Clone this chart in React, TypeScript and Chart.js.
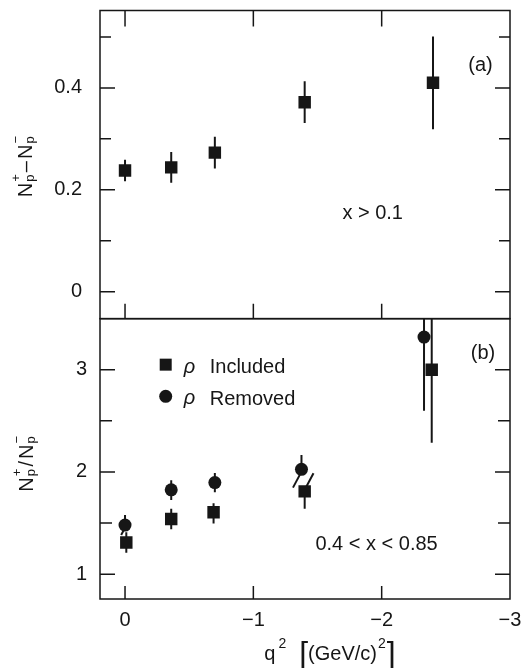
import React, { useEffect, useRef } from 'react';
import { Chart, registerables } from 'chart.js';

Chart.register(...registerables);

const FONT = '"Liberation Sans", Arial, sans-serif';
const INK = '#161616';

// ---- Panel (a): N+ - N-, x > 0.1 ----
const q2A = [0.0, -0.36, -0.70, -1.40, -2.40];
const valA = [0.238, 0.244, 0.273, 0.372, 0.410];
const errA = [0.021, 0.030, 0.031, 0.041, 0.091];

// ---- Panel (b): N+ / N-, 0.4 < x < 0.85 ----
const q2BInc = [-0.01, -0.36, -0.69, -1.40, -2.39];
const valBInc = [1.31, 1.54, 1.605, 1.81, 3.0];
const errUpBInc = [0.10, 0.10, 0.09, 0.0, 0.72];
const errDnBInc = [0.10, 0.10, 0.11, 0.17, 0.715];

const q2BRem = [0.0, -0.36, -0.70, -1.375, -2.33];
const valBRem = [1.48, 1.825, 1.896, 2.026, 3.32];
const errUpBRem = [0.10, 0.095, 0.095, 0.14, 0.72];
const errDnBRem = [0.0, 0.10, 0.095, 0.0, 0.72];

// slanted break marks on overlapping error bars
const slashQ2 = [0.01, -1.34, -1.44];
const slashVal = [1.43, 1.92, 1.92];

// ---- axes ----
const xMin = -3;
const xMax = 0.195;
const xTickVals = [0, -1, -2, -3];
const xTickLabels = ['0', '\u22121', '\u22122', '\u22123'];
const xTickMarks = [0, -1, -2];

const yAMin = -0.053;
const yAMax = 0.552;
const yATickVals = [0, 0.2, 0.4];
const yATickLabels = ['0', '0.2', '0.4'];
const yAMinor = [0.1, 0.3, 0.5];

const yBMin = 0.757;
const yBMax = 3.5;
const yBTickVals = [1, 2, 3];
const yBTickLabels = ['1', '2', '3'];
const yBMinor = [1.5, 2.5];

// ---- annotations ----
const legendLabels = ['Included', 'Removed'];
const legendQ2 = -0.317;
const legendVals = [3.05, 2.74];

function font(sz: number, italic = false) {
  return `${italic ? 'italic ' : ''}${sz}px ${FONT}`;
}

function scriptGroup(ctx: CanvasRenderingContext2D, x: number, y: number, base: string, sup: string, sub: string, fs: number, draw: boolean) {
  ctx.font = font(fs);
  const wb = ctx.measureText(base).width;
  if (draw) ctx.fillText(base, x, y);
  const sfs = Math.round(fs * 0.66);
  ctx.font = font(sfs);
  const wsup = ctx.measureText(sup).width;
  const wsub = ctx.measureText(sub).width;
  if (draw) {
    ctx.fillText(sup, x + wb + 1, y - fs * 0.62);
    ctx.fillText(sub, x + wb + 1, y + fs * 0.08);
  }
  return wb + 1 + Math.max(wsup, wsub);
}

function plain(ctx: CanvasRenderingContext2D, x: number, y: number, t: string, fs: number, draw: boolean) {
  ctx.font = font(fs);
  if (draw) ctx.fillText(t, x, y);
  return ctx.measureText(t).width;
}

function yTitle(ctx: CanvasRenderingContext2D, cx: number, cy: number, sep: string) {
  const fs = 20;
  const layout = (draw: boolean, x0: number) => {
    let x = x0;
    x += scriptGroup(ctx, x, 0, 'N', '+', 'p', fs, draw);
    x += 2;
    x += plain(ctx, x, 0, sep, fs, draw);
    x += 2;
    x += scriptGroup(ctx, x, 0, 'N', '\u2212', 'p', fs, draw);
    return x - x0;
  };
  ctx.save();
  ctx.translate(cx, cy);
  ctx.rotate(-Math.PI / 2);
  ctx.textAlign = 'left';
  ctx.textBaseline = 'alphabetic';
  ctx.fillStyle = INK;
  const w = layout(false, 0);
  layout(true, -w / 2);
  ctx.restore();
}

function xTitle(ctx: CanvasRenderingContext2D, cx: number, y: number) {
  const fs = 20;
  const layout = (draw: boolean, x0: number) => {
    let x = x0;
    x += plain(ctx, x, y, 'q', fs, draw);
    x += 3;
    ctx.font = font(14);
    if (draw) ctx.fillText('2', x, y - 12);
    x += ctx.measureText('2').width;
    x += 13;
    x += plain(ctx, x, y + 4, '[', 32, draw);
    x += plain(ctx, x, y, '(GeV/c)', fs, draw);
    x += 1;
    ctx.font = font(14);
    if (draw) ctx.fillText('2', x, y - 12);
    x += ctx.measureText('2').width;
    x += 1;
    x += plain(ctx, x, y + 4, ']', 32, draw);
    return x - x0;
  };
  ctx.save();
  ctx.textAlign = 'left';
  ctx.textBaseline = 'alphabetic';
  ctx.fillStyle = INK;
  const w = layout(false, 0);
  layout(true, cx - w / 2);
  ctx.restore();
}

const errorBars = {
  id: 'errorBars',
  beforeDatasetsDraw(chart: any) {
    const ctx: CanvasRenderingContext2D = chart.ctx;
    const xs = chart.scales.x;
    const { left, right } = chart.chartArea;
    const draw = (ys: any, qs: number[], vals: number[], up: number[], dn: number[]) => {
      ctx.save();
      ctx.beginPath();
      ctx.rect(left, ys.top, right - left, ys.bottom - ys.top);
      ctx.clip();
      ctx.strokeStyle = INK;
      ctx.lineWidth = 2;
      for (let i = 0; i < qs.length; i++) {
        const px = xs.getPixelForValue(qs[i]);
        ctx.beginPath();
        ctx.moveTo(px, ys.getPixelForValue(vals[i] + up[i]));
        ctx.lineTo(px, ys.getPixelForValue(vals[i] - dn[i]));
        ctx.stroke();
      }
      ctx.restore();
    };
    draw(chart.scales.yA, q2A, valA, errA, errA);
    draw(chart.scales.yB, q2BInc, valBInc, errUpBInc, errDnBInc);
    draw(chart.scales.yB, q2BRem, valBRem, errUpBRem, errDnBRem);
  },
};

const frame = {
  id: 'frame',
  afterDraw(chart: any) {
    const ctx: CanvasRenderingContext2D = chart.ctx;
    const xs = chart.scales.x;
    const yA = chart.scales.yA;
    const yB = chart.scales.yB;
    const { left: L, right: R } = chart.chartArea;
    ctx.save();
    ctx.strokeStyle = INK;
    ctx.lineWidth = 1.5;
    for (const s of [yA, yB]) ctx.strokeRect(L, s.top, R - L, s.bottom - s.top);
    const hTick = (ys: any, v: number, len: number) => {
      const py = ys.getPixelForValue(v);
      ctx.beginPath();
      ctx.moveTo(L, py); ctx.lineTo(L + len, py);
      ctx.moveTo(R, py); ctx.lineTo(R - len, py);
      ctx.stroke();
    };
    yATickVals.forEach(v => hTick(yA, v, 15));
    yAMinor.forEach(v => hTick(yA, v, 11));
    yBTickVals.forEach(v => hTick(yB, v, 15));
    yBMinor.forEach(v => hTick(yB, v, 12));
    xTickMarks.forEach(v => {
      const px = xs.getPixelForValue(v);
      ctx.beginPath();
      ctx.moveTo(px, yA.top); ctx.lineTo(px, yA.top + 16);
      ctx.moveTo(px, yA.bottom); ctx.lineTo(px, yA.bottom - 15);
      ctx.moveTo(px, yB.bottom); ctx.lineTo(px, yB.bottom - 13);
      ctx.stroke();
    });

    // annotations
    ctx.fillStyle = INK;
    ctx.font = font(20);
    ctx.textAlign = 'center';
    ctx.textBaseline = 'middle';
    ctx.fillText('(a)', xs.getPixelForValue(-2.77), yA.getPixelForValue(0.445));
    ctx.fillText('x > 0.1', xs.getPixelForValue(-1.93), yA.getPixelForValue(0.153));
    ctx.fillText('(b)', xs.getPixelForValue(-2.79), yB.getPixelForValue(3.155));
    ctx.fillText('0.4 < x < 0.85', xs.getPixelForValue(-1.96), yB.getPixelForValue(1.29));

    // legend
    const lx = xs.getPixelForValue(legendQ2);
    legendVals.forEach((v, i) => {
      const ly = yB.getPixelForValue(v);
      ctx.beginPath();
      if (i === 0) ctx.rect(lx - 6, ly - 6, 12, 12);
      else ctx.arc(lx, ly, 6.5, 0, Math.PI * 2);
      ctx.fill();
      ctx.textAlign = 'left';
      ctx.textBaseline = 'alphabetic';
      ctx.font = font(20, true);
      ctx.fillText('\u03c1', lx + 18, ly + 8);
      ctx.font = font(20);
      ctx.fillText(legendLabels[i], lx + 44, ly + 8.5);
    });

    // axis titles
    yTitle(ctx, 32, (yA.top + yA.bottom) / 2 + 2, '\u2013');
    yTitle(ctx, 33, (yB.top + yB.bottom) / 2 + 5, '/');
    xTitle(ctx, (L + R) / 2 + 25, 660);
    ctx.restore();
  },
};

const noPad = (s: any) => {
  s.paddingTop = 0;
  s.paddingBottom = 0;
  s.paddingLeft = 0;
  s.paddingRight = 0;
};

export default function App() {
  const ref = useRef<HTMLCanvasElement | null>(null);
  useEffect(() => {
    if (!ref.current) return;
    const pts = (xs: number[], ys: number[]) => xs.map((x, i) => ({ x, y: ys[i] }));
    const tickFont = { family: FONT, size: 20 };
    const chart = new Chart(ref.current, {
      type: 'scatter',
      data: {
        datasets: [
          {
            label: 'a',
            data: pts(q2A, valA),
            xAxisID: 'x', yAxisID: 'yA',
            pointStyle: 'rect', pointRadius: 8.8, backgroundColor: INK, borderColor: INK, borderWidth: 0,
          },
          {
            label: 'rho included',
            data: pts(q2BInc, valBInc),
            xAxisID: 'x', yAxisID: 'yB',
            pointStyle: 'rect', pointRadius: 8.8, backgroundColor: INK, borderColor: INK, borderWidth: 0,
          },
          {
            label: 'rho removed',
            data: pts(q2BRem, valBRem),
            xAxisID: 'x', yAxisID: 'yB',
            pointStyle: 'circle', pointRadius: 6.5, backgroundColor: INK, borderColor: INK, borderWidth: 0,
          },
          {
            label: 'breaks',
            data: pts(slashQ2, slashVal),
            xAxisID: 'x', yAxisID: 'yB',
            pointStyle: 'line', pointRadius: [5.5, 8.5, 7.8], rotation: -62,
            borderColor: INK, borderWidth: 2, backgroundColor: INK,
          },
        ] as any,
      },
      options: {
        animation: false,
        responsive: false,
        maintainAspectRatio: false,
        layout: { padding: { top: 7, right: 19, left: 0, bottom: 0 } },
        plugins: { legend: { display: false }, tooltip: { enabled: false } },
        events: [],
        scales: {
          x: {
            type: 'linear', position: 'bottom', min: xMin, max: xMax, reverse: true,
            afterBuildTicks: (s: any) => { s.ticks = xTickVals.map(v => ({ value: v })); },
            afterFit: (s: any) => { s.height = 69; noPad(s); },
            ticks: {
              autoSkip: false, maxRotation: 0, padding: 9, color: INK, font: tickFont,
              callback: (v: any) => xTickLabels[xTickVals.indexOf(Number(v))],
            },
            grid: { display: false, drawTicks: false },
            border: { display: false },
          },
          yA: {
            type: 'linear', position: 'left', stack: 'panels', stackWeight: 310, weight: 2,
            min: yAMin, max: yAMax,
            afterBuildTicks: (s: any) => { s.ticks = yATickVals.map(v => ({ value: v })); },
            afterFit: (s: any) => { s.width = 100; noPad(s); },
            ticks: {
              padding: 18, color: INK, font: tickFont,
              callback: (v: any) => yATickLabels[yATickVals.findIndex(t => Math.abs(t - Number(v)) < 1e-9)],
            },
            grid: { display: false, drawTicks: false },
            border: { display: false },
          },
          yB: {
            type: 'linear', position: 'left', stack: 'panels', stackWeight: 282, weight: 1,
            min: yBMin, max: yBMax,
            afterBuildTicks: (s: any) => { s.ticks = yBTickVals.map(v => ({ value: v })); },
            afterFit: (s: any) => { s.width = 100; noPad(s); },
            ticks: {
              padding: 13, color: INK, font: tickFont,
              callback: (v: any) => yBTickLabels[yBTickVals.findIndex(t => Math.abs(t - Number(v)) < 1e-9)],
            },
            grid: { display: false, drawTicks: false },
            border: { display: false },
          },
        } as any,
      },
      plugins: [errorBars, frame],
    });
    return () => chart.destroy();
  }, []);

  return (
    <div style={{ position: 'fixed', left: 0, top: 0, width: 529, height: 668, background: '#fff' }}>
      <canvas ref={ref} width={529} height={668} style={{ width: 529, height: 668, display: 'block' }} />
    </div>
  );
}
